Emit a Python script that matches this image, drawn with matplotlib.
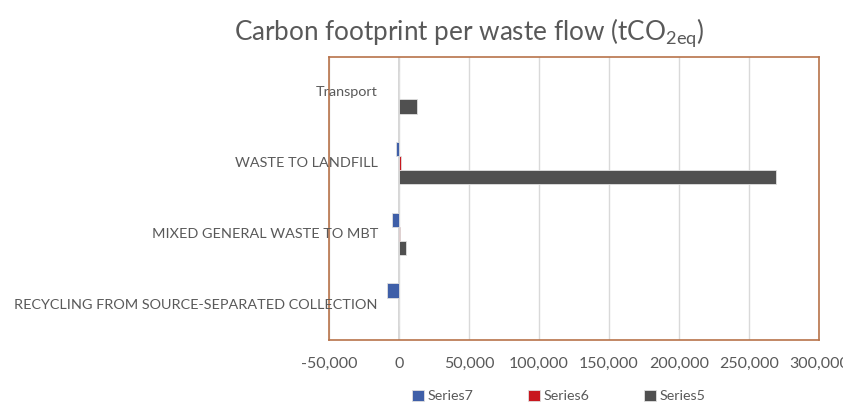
import matplotlib.pyplot as plt
import numpy as np
from matplotlib.transforms import blended_transform_factory

plt.rcParams['font.family'] = ['Lato', 'DejaVu Sans']
plt.rcParams['mathtext.default'] = 'regular'

categories = ['RECYCLING FROM SOURCE-SEPARATED COLLECTION', 'MIXED GENERAL WASTE TO MBT',
              'WASTE TO LANDFILL', 'Transport']
series5 = [200, 4700, 269000, 12500]
series6 = [300, 1000, 1600, 0]
series7 = [-8900, -5300, -2300, 0]

series_names = ['Series5', 'Series6', 'Series7']
colors = ['#505050', '#C8171E', '#3F5FA8']

fig = plt.figure(figsize=(8.43, 4.15), dpi=100)
ax = fig.add_axes([329/843, 1-340/415, 490/843, 283/415])

y = np.arange(len(categories))
h = 0.2
for i, (vals, name, c) in enumerate(zip([series5, series6, series7], series_names, colors)):
    ax.barh(y + (i-1)*h, vals, height=h, color=c, edgecolor='#E0E0E0', linewidth=0.6,
            label=name, zorder=3)

ax.set_xlim(-50000, 300000)
ax.set_ylim(-0.5, len(categories)-0.5)
ax.set_xticks(np.arange(-50000, 300001, 50000))
ax.set_xticklabels([f'{v:,}' for v in range(-50000, 300001, 50000)])
ax.xaxis.grid(True, color='#D9D9D9', linewidth=1, zorder=0)
ax.axvline(0, color='#D0D0D0', linewidth=1.2, zorder=1)
ax.tick_params(axis='x', length=0, pad=12, labelsize=11.5, labelcolor='#595959')
ax.set_yticks([])
for s in ax.spines.values():
    s.set_color('#B8734A')
    s.set_linewidth(1.2)

tr = blended_transform_factory(ax.transData, ax.transData)
for yi, cat in zip(y, categories):
    ax.text(-15000, yi, cat, transform=tr, ha='right', va='center', fontsize=10.4,
            color='#595959', zorder=5)

fig.text(469/843, 1-33/415, 'Carbon footprint per waste flow (tCO$_{2eq}$)', ha='center',
         va='center', fontsize=18.8, color='#595959')

handles, labels = ax.get_legend_handles_labels()
fig.legend(handles[::-1], labels[::-1], loc='center', bbox_to_anchor=(559/843, 1-396/415),
           ncol=3, frameon=False, fontsize=10.3, labelcolor='#595959', handlelength=0.8,
           handleheight=0.8, handletextpad=0.3, columnspacing=3.8)

fig.savefig('out.png', dpi=100)
